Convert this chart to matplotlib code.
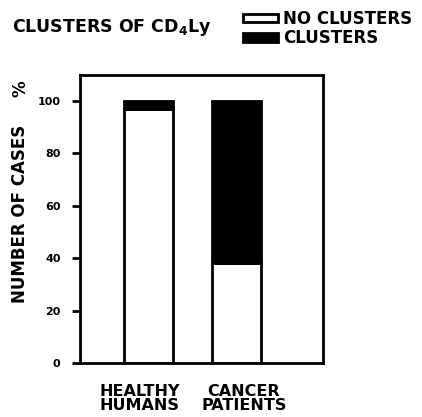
import matplotlib
matplotlib.use('Agg')
import matplotlib.pyplot as plt
from matplotlib.patches import Rectangle

groups = ['HEALTHY\nHUMANS', 'CANCER\nPATIENTS']
no_clusters = [97, 38]
clusters = [3, 62]
yticks = [0, 20, 40, 60, 80, 100]

plt.rcParams['font.family'] = ['DejaVu Sans']
plt.rcParams['font.weight'] = 'bold'
plt.rcParams['mathtext.default'] = 'bf'

fig = plt.figure(figsize=(4.22, 4.17), dpi=100)
ax = fig.add_axes([80 / 422, 1 - 363 / 417, 243 / 422, 288 / 417])

x = list(range(len(groups)))
ax.bar(x, no_clusters, width=0.56, color='white', edgecolor='black', linewidth=2)
ax.bar(x, clusters, width=0.56, bottom=no_clusters, color='black', edgecolor='black', linewidth=2)

ax.set_xlim(-0.78, 1.99)
ax.set_ylim(0, 109.8)
ax.set_yticks(yticks)
ax.set_yticklabels([str(t) for t in yticks], fontsize=8, fontweight='heavy',
                   family=['Liberation Sans Narrow', 'DejaVu Sans'])
ax.set_xticks([])
ax.tick_params(axis='y', direction='out', length=6, width=2, pad=8)
for s in ax.spines.values():
    s.set_linewidth(2)

# labels sit a little apart from the bar centres in the original
label_shift = [-0.1, 0.09]
for xi, g, dx in zip(x, groups, label_shift):
    ax.text(xi + dx, -8, g, ha='center', va='top', fontsize=11.5, fontweight='heavy',
            linespacing=0.95, transform=ax.transData, clip_on=False)

fig.text(20 / 422, 1 - 214 / 417, 'NUMBER OF CASES', rotation=90, ha='center', va='center',
         fontsize=12, fontweight='heavy')
fig.text(20 / 422, 1 - 89 / 417, '%', rotation=90, ha='center', va='center', fontsize=12,
         fontweight='heavy')

fig.text(12 / 422, 1 - 27 / 417, 'CLUSTERS OF CD$_4$Ly', ha='left', va='center',
         fontsize=12.5, fontweight='heavy')

fig.patches.append(Rectangle((243 / 422, 1 - 22 / 417), 35 / 422, 8 / 417, transform=fig.transFigure,
                             facecolor='white', edgecolor='black', linewidth=2))
fig.patches.append(Rectangle((243 / 422, 1 - 42 / 417), 35 / 422, 9 / 417, transform=fig.transFigure,
                             facecolor='black', edgecolor='black', linewidth=2))
fig.text(283 / 422, 1 - 19 / 417, 'NO CLUSTERS', ha='left', va='center', fontsize=12, fontweight='heavy')
fig.text(283 / 422, 1 - 38 / 417, 'CLUSTERS', ha='left', va='center', fontsize=12, fontweight='heavy')

fig.savefig('out.png', dpi=100)
